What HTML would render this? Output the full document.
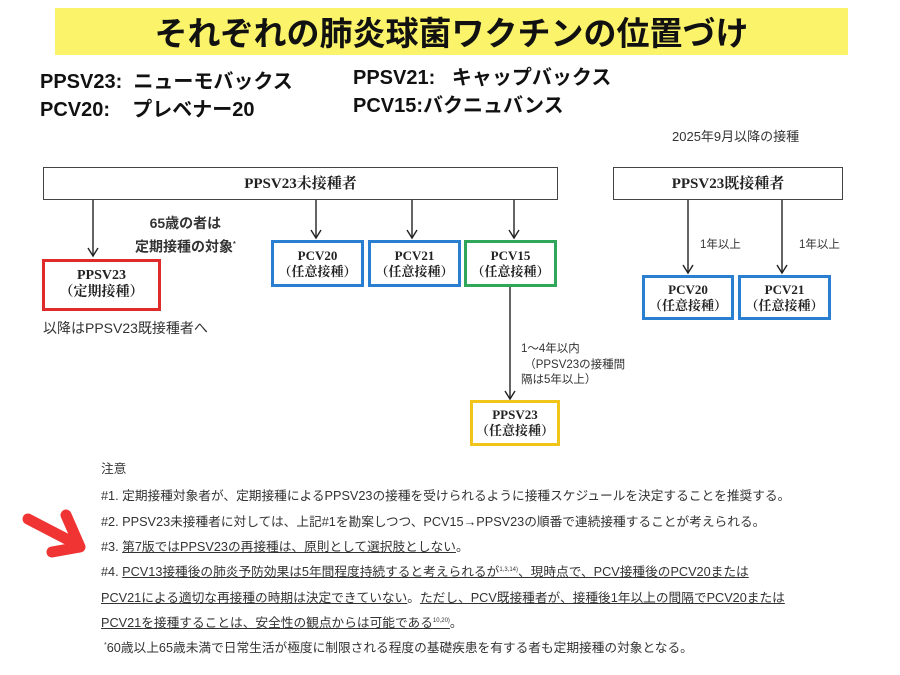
<!DOCTYPE html><html><head><meta charset="utf-8"><style>
body{margin:0;width:900px;height:675px;background:#fff;position:relative;overflow:hidden;font-family:"Liberation Sans","Noto Sans CJK JP",sans-serif;color:#222}
.a{position:absolute;white-space:nowrap}
.box{position:absolute;box-sizing:border-box;border:2px solid #444;display:flex;align-items:center;justify-content:center;text-align:center;font-family:"Liberation Serif","Noto Serif CJK SC",serif;font-weight:bold;line-height:1.2}
.n{font-size:12.7px;color:#333}
.u{text-decoration:underline}
</style></head><body>
<div class="a" style="left:55px;top:8px;width:793px;height:47px;background:#fbf46a"></div>
<div class="a" style="left:55px;top:8px;width:793px;height:47px;text-align:center;line-height:47px;font-size:33px;font-weight:bold;color:#111;font-family:'Noto Sans CJK JP',sans-serif">それぞれの肺炎球菌ワクチンの位置づけ</div>
<div class="a" style="left:40px;top:68px;font-size:20px;font-weight:bold;color:#111;line-height:28px">PPSV23:&nbsp; ニューモバックス<br>PCV20:&nbsp;&nbsp;&nbsp; プレベナー20</div>
<div class="a" style="left:353px;top:64px;font-size:20px;font-weight:bold;color:#111;line-height:28px">PPSV21:&nbsp;&nbsp; キャップバックス<br>PCV15:バクニュバンス</div>
<div class="a" style="left:672px;top:126px;font-size:13px;color:#333">2025年9月以降の接種</div>

<div class="box" style="left:43px;top:167px;width:515px;height:33px;border-width:1.5px;font-size:15px">PPSV23未接種者</div>
<div class="box" style="left:613px;top:167px;width:230px;height:33px;border-width:1.5px;font-size:15px">PPSV23既接種者</div>

<svg class="a" style="left:0;top:0" width="900" height="675">
<defs><marker id="m" markerWidth="12" markerHeight="12" refX="9" refY="6" orient="auto" markerUnits="userSpaceOnUse"><path d="M1,1 L9,6 L1,11" fill="none" stroke="#222" stroke-width="1.4"/></marker></defs>
<g stroke="#222" stroke-width="1.4" marker-end="url(#m)">
<line x1="93" y1="200" x2="93" y2="256"/>
<line x1="316" y1="200" x2="316" y2="238"/>
<line x1="412" y1="200" x2="412" y2="238"/>
<line x1="514" y1="200" x2="514" y2="238"/>
<line x1="510" y1="287" x2="510" y2="399"/>
<line x1="688" y1="200" x2="688" y2="273"/>
<line x1="782" y1="200" x2="782" y2="273"/>
</g>
<g stroke="#f03434" stroke-width="11" stroke-linecap="round" stroke-linejoin="round" fill="none">
<line x1="28" y1="519" x2="78" y2="545"/>
<polyline points="66,515 80,547 52,552"/>
</g>
</svg>

<div class="a" style="left:135px;top:213px;font-size:14px;font-weight:bold;color:#333;line-height:21px;text-align:center">65歳の者は<br>定期接種の対象<sup style="font-size:7px">*</sup></div>
<div class="box" style="left:42px;top:259px;width:119px;height:52px;border:3px solid #e02b2b;font-size:14px">PPSV23<br>（定期接種）</div>
<div class="a" style="left:43px;top:318px;font-size:14px;color:#333">以降はPPSV23既接種者へ</div>

<div class="box" style="left:271px;top:240px;width:93px;height:47px;border:3px solid #2a7fd0;font-size:13px">PCV20<br>（任意接種）</div>
<div class="box" style="left:368px;top:240px;width:93px;height:47px;border:3px solid #2a7fd0;font-size:13px">PCV21<br>（任意接種）</div>
<div class="box" style="left:464px;top:240px;width:93px;height:47px;border:3px solid #2fa65a;font-size:13px">PCV15<br>（任意接種）</div>
<div class="a" style="left:521px;top:342px;font-size:11.5px;color:#333;line-height:15.5px">1～4年以内<br>&nbsp;（PPSV23の接種間<br>隔は5年以上）</div>
<div class="box" style="left:470px;top:400px;width:90px;height:46px;border:3px solid #f0c419;font-size:13px">PPSV23<br>（任意接種）</div>

<div class="a" style="left:700px;top:236px;font-size:11.5px;color:#333">1年以上</div>
<div class="a" style="left:799px;top:236px;font-size:11.5px;color:#333">1年以上</div>
<div class="box" style="left:642px;top:275px;width:92px;height:45px;border:3px solid #2a7fd0;font-size:13px">PCV20<br>（任意接種）</div>
<div class="box" style="left:738px;top:275px;width:93px;height:45px;border:3px solid #2a7fd0;font-size:13px">PCV21<br>（任意接種）</div>

<div class="a n" style="left:101px;top:458px">注意</div>
<div class="a n" style="left:101px;top:485px">#1. 定期接種対象者が、定期接種によるPPSV23の接種を受けられるように接種スケジュールを決定することを推奨する。</div>
<div class="a n" style="left:101px;top:511px">#2. PPSV23未接種者に対しては、上記#1を勘案しつつ、PCV15→PPSV23の順番で連続接種することが考えられる。</div>
<div class="a n" style="left:101px;top:536px">#3. <span class="u">第7版ではPPSV23の再接種は、原則として選択肢としない</span>。</div>
<div class="a n" style="left:101px;top:561px">#4. <span class="u">PCV13接種後の肺炎予防効果は5年間程度持続すると考えられるが<sup style="font-size:6px">1,3,14)</sup>、現時点で、PCV接種後のPCV20または</span></div>
<div class="a n" style="left:101px;top:587px"><span class="u">PCV21による適切な再接種の時期は決定できていない</span>。<span class="u">ただし、PCV既接種者が、接種後1年以上の間隔でPCV20または</span></div>
<div class="a n" style="left:101px;top:612px"><span class="u">PCV21を接種することは、安全性の観点からは可能である<sup style="font-size:6px">10,20)</sup></span>。</div>
<div class="a n" style="left:104px;top:637px"><sup style="font-size:7px">*</sup>60歳以上65歳未満で日常生活が極度に制限される程度の基礎疾患を有する者も定期接種の対象となる。</div>
</body></html>
